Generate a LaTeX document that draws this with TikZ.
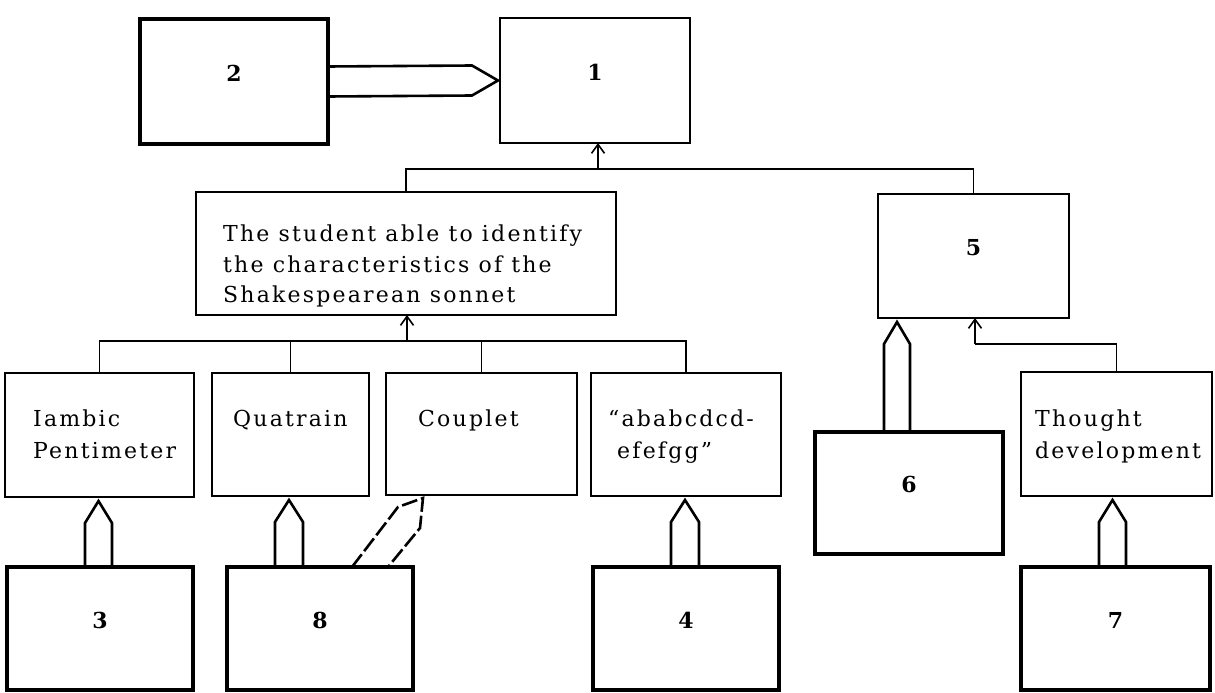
\documentclass[tikz,border=0pt]{standalone}
\usepackage{fontspec}
\setmainfont{DejaVu Serif}
\newfontfamily\lblfont{DejaVu Serif}[LetterSpace=10]
\usetikzlibrary{arrows.meta,calc,fit}
\tikzset{
  box/.style={draw, inner sep=0pt, outer sep=0pt, line width=1.4pt},
  heavybox/.style={draw, inner sep=0pt, outer sep=0pt, line width=3.8pt},
  fat/.style={line width=2.6pt, line join=miter},
  conn/.style={line width=1.3pt},
  up/.style={conn, -{Straight Barb[length=9pt,width=13pt,line width=1.6pt]}},
  lbl/.style={inner sep=0pt, anchor=base west, font=\lblfont\fontsize{22}{32}\selectfont},
  num/.style={font=\fontsize{22}{26}\selectfont\bfseries},
}
\newcommand\fatup[5]{%
  \draw[fat] (#3,0 |- #1.north) -- ($(#3,0 |- #2.south)+(0,26)$)
    -- ($(#5,0 |- #2.south)+(0,4)$) -- ($(#4,0 |- #2.south)+(0,26)$)
    -- (#4,0 |- #1.north);}
\begin{document}
\begin{tikzpicture}[x=1pt,y=-1pt]
\useasboundingbox (0,0) rectangle (1215,693);
% boxes
\node[box, num, fit={(500,18) (690,143)}] (n1) {1};
\node[heavybox, num, fit={(140,19) (328,144)}] (b2) {2};
\node[box, fit={(196,192) (616,315)}] (stud) {};
\node[box, num, fit={(878,194) (1069,318)}] (b5) {5};
\node[box, fit={(5,373) (194,497)}] (iamb) {};
\node[box, fit={(212,373) (369,496)}] (quat) {};
\node[box, fit={(386,373) (577,495)}] (coup) {};
\node[box, fit={(591,373) (781,496)}] (abab) {};
\node[box, fit={(1021,372) (1212,496)}] (thought) {};
\node[heavybox, num, fit={(815,432) (1003,554)}] (b6) {6};
\node[heavybox, num, fit={(7,567) (193,690)}] (b3) {3};
\node[heavybox, num, fit={(227,567) (413,690)}] (b8) {8};
\node[heavybox, num, fit={(593,567) (779,690)}] (b4) {4};
\node[heavybox, num, fit={(1021,567) (1210,690)}] (b7) {7};
% texts
\node[lbl] (s1) at ($(stud.north west)+(27,49)$) {The student able to identify};
\node[lbl] (s2) at ($(stud.north west)+(27,80)$) {the characteristics of the};
\node[lbl] (s3) at ($(stud.north west)+(27,110)$) {Shakespearean sonnet};
\node[lbl] (i1) at ($(iamb.north west)+(28,53)$) {Iambic};
\node[lbl] (i2) at ($(iamb.north west)+(28,85)$) {Pentimeter};
\node[lbl] (q1) at ($(quat.north west)+(21,53)$) {Quatrain};
\node[lbl] (c1) at ($(coup.north west)+(32,53)$) {Couplet};
\node[lbl] (a1) at ($(abab.north west)+(17,53)$) {“ababcdcd-};
\node[lbl] (a2) at ($(abab.north west)+(26,85)$) {efefgg”};
\node[lbl] (t1) at ($(thought.north west)+(14,54)$) {Thought};
\node[lbl] (t2) at ($(thought.north west)+(14,86)$) {development};
% tree connectors
\coordinate (j1) at (598,169);
\draw[conn] (stud.north) |- (b5.north |- j1) -- (b5.north);
\draw[up] (j1) -- (j1 |- n1.south);
\coordinate (j2) at (407,341);
\draw[conn] (iamb.north) |- (abab.north |- j2) -- (abab.north);
\draw[conn] (quat.north |- j2) -- (quat.north);
\draw[conn] (coup.north |- j2) -- (coup.north);
\draw[up] (j2) -- (j2 |- stud.south);
\coordinate (j3) at (975,344);
\draw[conn] (thought.north) |- (j3);
\draw[up] (j3) -- (j3 |- b5.south);
% fat arrows
\draw[fat] ($(b2.east)+(0,-15)$) -- ($(n1.west)+(-28,-15)$) -- ($(n1.west)+(-2,0)$)
  -- ($(n1.west)+(-28,15)$) -- ($(b2.east)+(0,15)$);
\fatup{b3}{iamb}{85}{112}{98.5}
\fatup{b8}{quat}{275}{303}{289}
\fatup{b4}{abab}{671}{699}{685}
\fatup{b7}{thought}{1099}{1126}{1112.5}
\fatup{b6}{b5}{884}{910}{897}
\draw[fat, dash pattern=on 16pt off 4pt] (352,0 |- b8.north) -- ($(coup.south west)+(12,12)$)
  -- ($(coup.south west)+(37,3)$) -- ($(coup.south west)+(34,33)$) -- (388,0 |- b8.north);
\end{tikzpicture}
\end{document}
